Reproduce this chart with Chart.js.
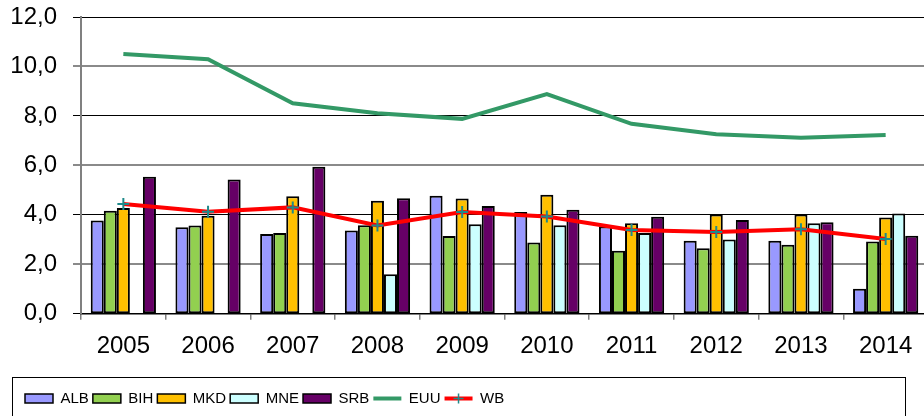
<!DOCTYPE html>
<html>
<head>
<meta charset="utf-8">
<script src="https://cdn.jsdelivr.net/npm/chart.js@4/dist/chart.umd.min.js"></script>
<style>
  html, body { margin: 0; padding: 0; background: #fff; overflow: hidden; }
  canvas { display: block; }
</style>
</head>
<body>
<canvas id="chart" width="928" height="416"></canvas>
<script>
const years = ["2005", "2006", "2007", "2008", "2009", "2010", "2011", "2012", "2013", "2014"];
const alb = [3.77, 3.50, 3.22, 3.37, 4.77, 4.11, 3.53, 2.95, 2.95, 1.01];
const bih = [4.16, 3.57, 3.26, 3.58, 3.14, 2.88, 2.55, 2.65, 2.79, 2.92];
const mkd = [4.27, 3.96, 4.75, 4.57, 4.66, 4.81, 3.66, 4.01, 4.01, 3.89];
const mne = [null, null, null, 1.60, 3.62, 3.58, 3.26, 3.00, 3.66, 4.05];
const srb = [5.54, 5.43, 5.94, 4.67, 4.36, 4.20, 3.92, 3.79, 3.70, 3.15];
const euu = [10.50, 10.29, 8.51, 8.11, 7.88, 8.88, 7.68, 7.26, 7.12, 7.23];
const wb = [4.44, 4.12, 4.30, 3.57, 4.11, 3.93, 3.39, 3.30, 3.42, 3.02];
const yMin = 0, yMax = 12, yStep = 2;

const FONT = "'Liberation Sans', Arial, sans-serif";
const MARKER = "#1F8A8A";

function bar(label, data, color) {
  return {
    type: "bar", label, data, order: 1,
    backgroundColor: color, borderColor: "#000", borderWidth: 2, borderSkipped: false,
    categoryPercentage: 0.77, barPercentage: 1
  };
}

// legend sits inside a frame and starts a little in from its left side
const legendFrame = {
  id: "legendFrame",
  afterLayout(chart) {
    if (chart.legend) chart.legend.left = 21;
  },
  afterDraw(chart) {
    const lg = chart.legend;
    if (!lg) return;
    const ctx = chart.ctx;
    ctx.save();
    ctx.strokeStyle = "#000";
    ctx.lineWidth = 1;
    ctx.strokeRect(12.5, Math.round(lg.top) - 9.5, 893, 60);
    // the WB line sample carries its cross marker too
    const hb = lg.legendHitBoxes && lg.legendHitBoxes[6];
    if (hb) {
      const x = hb.left + 14, y = hb.top + hb.height / 2;
      ctx.strokeStyle = MARKER;
      ctx.lineWidth = 1.5;
      ctx.beginPath();
      ctx.moveTo(x - 5, y); ctx.lineTo(x + 5, y);
      ctx.moveTo(x, y - 5); ctx.lineTo(x, y + 5);
      ctx.stroke();
    }
    ctx.restore();
  }
};

const ctx = document.getElementById("chart").getContext("2d");
new Chart(ctx, {
  data: {
    labels: years,
    datasets: [
      bar("ALB", alb, "#9999FF"),
      bar("BIH", bih, "#92D050"),
      bar("MKD", mkd, "#FFC000"),
      bar("MNE", mne, "#CCFFFF"),
      bar("SRB", srb, "#660066"),
      {
        type: "line", label: "EUU", data: euu, order: 0,
        borderColor: "#339966", backgroundColor: "#339966", borderWidth: 4,
        pointRadius: 0, tension: 0, pointStyle: "line"
      },
      {
        type: "line", label: "WB", data: wb, order: 0,
        borderColor: "#FF0000", backgroundColor: "#FF0000", borderWidth: 4,
        tension: 0, pointStyle: "cross", pointRadius: 6,
        pointBorderColor: MARKER, pointBorderWidth: 2
      }
    ]
  },
  options: {
    responsive: false,
    animation: false,
    layout: { autoPadding: false, padding: { left: 0, top: 17, right: 0, bottom: 0 } },
    plugins: {
      tooltip: { enabled: false },
      legend: {
        position: "bottom",
        align: "start",
        labels: {
          usePointStyle: true,
          pointStyleWidth: 28,
          boxHeight: 9,
          padding: 4,
          color: "#000",
          font: { family: FONT, size: 15 },
          sort: (a, b) => a.datasetIndex - b.datasetIndex,
          generateLabels(chart) {
            return chart.data.datasets.map((ds, i) => ({
              text: ds.label,
              datasetIndex: i,
              fillStyle: ds.type === "bar" ? ds.backgroundColor : ds.borderColor,
              strokeStyle: ds.type === "bar" ? "#000" : ds.borderColor,
              lineWidth: ds.type === "bar" ? 1.5 : 4,
              pointStyle: ds.type === "bar" ? "rect" : "line",
              hidden: false
            }));
          }
        }
      }
    },
    scales: {
      x: {
        offset: true,
        afterFit: (scale) => {
          scale.height += 14.5;
          scale.paddingLeft = 0;
          scale.paddingRight = 0;
        },
        grid: { offset: true, drawOnChartArea: false, tickLength: 6, color: "#808080", lineWidth: 1.5 },
        border: { color: "#000", width: 1.5 },
        ticks: { color: "#000", padding: 12, font: { family: FONT, size: 24 } }
      },
      y: {
        min: yMin, max: yMax,
        afterFit: (scale) => {
          scale.width = 81;
          scale.paddingTop = 0;
          scale.paddingBottom = 0;
        },
        grid: {
          tickLength: 8,
          color: (c) => (c.index % 2 === 0 ? "#000" : "#8a8a8a"),
          lineWidth: (c) => (c.index % 2 === 0 ? 1 : 2)
        },
        border: { color: "#808080", width: 2 },
        ticks: {
          stepSize: yStep, color: "#000", padding: 16,
          font: { family: FONT, size: 24 },
          callback: (v) => v.toFixed(1).replace(".", ",")
        }
      }
    }
  },
  plugins: [legendFrame]
});
</script>
</body>
</html>
